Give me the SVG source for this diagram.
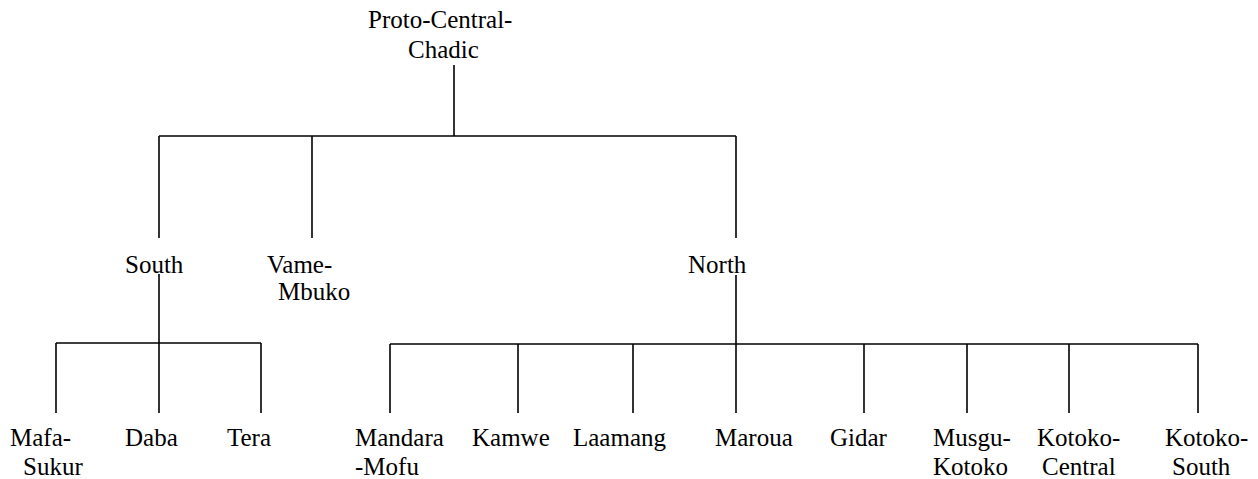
<svg xmlns="http://www.w3.org/2000/svg" width="1258" height="479" viewBox="0 0 1258 479">
<style>
text{font-family:"Liberation Serif","Times New Roman",serif;font-size:25px;fill:#000}
.c line{stroke:#000;stroke-width:1.6}
</style>
<rect width="1258" height="479" fill="#fff"/>
<g class="c" id="connectors">
<line x1="454" y1="65" x2="454" y2="136"/>
<line x1="159" y1="136" x2="736" y2="136"/>
<line x1="159" y1="136" x2="159" y2="238"/>
<line x1="312" y1="136" x2="312" y2="238"/>
<line x1="736" y1="136" x2="736" y2="238"/>
<line x1="159" y1="274" x2="159" y2="413"/>
<line x1="56" y1="343" x2="261" y2="343"/>
<line x1="56" y1="343" x2="56" y2="413"/>
<line x1="261" y1="343" x2="261" y2="413"/>
<line x1="736" y1="275" x2="736" y2="413"/>
<line x1="390" y1="344" x2="1198" y2="344"/>
<line x1="390" y1="344" x2="390" y2="413"/>
<line x1="518" y1="344" x2="518" y2="413"/>
<line x1="633" y1="344" x2="633" y2="413"/>
<line x1="864" y1="344" x2="864" y2="413"/>
<line x1="967" y1="344" x2="967" y2="413"/>
<line x1="1069" y1="344" x2="1069" y2="413"/>
<line x1="1198" y1="344" x2="1198" y2="413"/>
</g>
<g id="root"><text x="368" y="28">Proto-Central-</text><text x="408" y="58">Chadic</text></g>
<g id="south"><text x="125" y="273">South</text></g>
<g id="vame"><text x="267" y="273">Vame-</text><text x="278" y="300">Mbuko</text></g>
<g id="north"><text x="688" y="273">North</text></g>
<g id="mafa"><text x="10" y="446">Mafa-</text><text x="23" y="475">Sukur</text></g>
<g id="daba"><text x="125" y="446">Daba</text></g>
<g id="tera"><text x="227" y="446">Tera</text></g>
<g id="mandara"><text x="355" y="446">Mandara</text><text x="355" y="475">-Mofu</text></g>
<g id="kamwe"><text x="472" y="446">Kamwe</text></g>
<g id="laamang"><text x="573" y="446">Laamang</text></g>
<g id="maroua"><text x="715" y="446">Maroua</text></g>
<g id="gidar"><text x="830" y="446">Gidar</text></g>
<g id="musgu"><text x="933" y="446">Musgu-</text><text x="933" y="475">Kotoko</text></g>
<g id="kotoko-central"><text x="1037" y="446">Kotoko-</text><text x="1042" y="475">Central</text></g>
<g id="kotoko-south"><text x="1165" y="446">Kotoko-</text><text x="1172" y="475">South</text></g>
</svg>
